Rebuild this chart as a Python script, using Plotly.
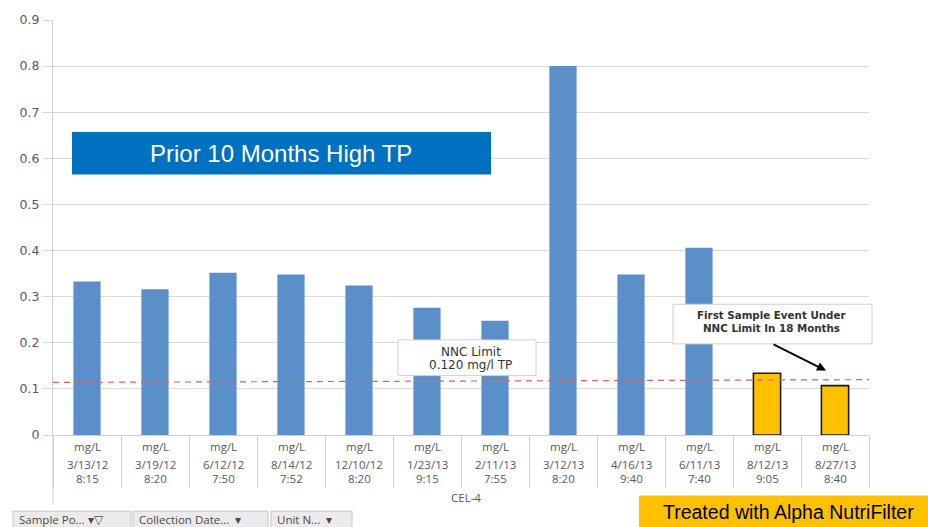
import plotly.graph_objects as go

# ---- data ----
dates = ["3/13/12", "3/19/12", "6/12/12", "8/14/12", "12/10/12", "1/23/13",
         "2/11/13", "3/12/13", "4/16/13", "6/11/13", "8/12/13", "8/27/13"]
times = ["8:15", "8:20", "7:50", "7:52", "8:20", "9:15",
         "7:55", "8:20", "9:40", "7:40", "9:05", "8:40"]
units = ["mg/L"] * 12
tp_values = [0.333, 0.316, 0.352, 0.348, 0.324, 0.276,
             0.248, 0.800, 0.348, 0.406, 0.134, 0.107]
treated = [False] * 10 + [True] * 2
nnc_limit = [0.114, 0.120]          # dashed reference line (left, right)
y_ticks = [0, 0.1, 0.2, 0.3, 0.4, 0.5, 0.6, 0.7, 0.8, 0.9]
y_tick_text = ["0", "0.1", "0.2", "0.3", "0.4", "0.5", "0.6", "0.7", "0.8", "0.9"]
group_label = "CEL-4"

categories = [f"{d} {t}" for d, t in zip(dates, times)]

W, H = 928, 527
ML, MR, MT, MB = 53, 59, 16, 92
PW, PH = W - ML - MR, H - MT - MB


def px(x):
    return (x - ML) / PW


def py(y):
    return (H - MB - y) / PH


BLUE = "#5B8FC9"
YELLOW = "#FFC000"
GREY_TXT = "#595959"

fig = go.Figure()
fig.add_trace(go.Bar(
    x=categories, y=tp_values, width=0.4,
    marker=dict(color=[YELLOW if t else BLUE for t in treated],
                line=dict(color=["#1a1a1a" if t else BLUE for t in treated],
                          width=[1.6 if t else 0 for t in treated])),
    showlegend=False, hoverinfo="x+y",
))

fig.update_layout(
    width=W, height=H, margin=dict(l=ML, r=MR, t=MT, b=MB),
    paper_bgcolor="white", plot_bgcolor="white",
    bargap=0.6,
    xaxis=dict(type="category", range=[-0.5, 11.5], showticklabels=False,
               showgrid=False, tickson="boundaries", ticks="outside",
               ticklen=52, tickcolor="#D0D0D0", tickwidth=1,
               showline=True, linecolor="#D0D0D0", linewidth=1),
    yaxis=dict(range=[0, 0.9], tickvals=y_ticks, ticktext=y_tick_text,
               showgrid=True, gridcolor="#D9D9D9", gridwidth=1,
               zeroline=False, ticks="outside", ticklen=10,
               tickcolor="#D9D9D9", showline=True, linecolor="#D0D0D0",
               tickfont=dict(family="DejaVu Sans", size=12.5, color=GREY_TXT)),
)

shapes = []
annotations = []


def note(x, y, text, font, xanchor="center", xref="paper", **kw):
    d = dict(x=x, xref=xref, y=y, yref="paper", text=text, showarrow=False,
             xanchor=xanchor, yanchor="middle", font=font)
    d.update(kw)
    annotations.append(d)


# left axis extension downward
shapes.append(dict(type="line", xref="paper", yref="paper",
                   x0=0, x1=0, y0=0, y1=py(506), line=dict(color="#D0D0D0", width=1)))

# NNC limit dashed line
shapes.append(dict(type="line", xref="paper", yref="y",
                   x0=0, x1=1, y0=nnc_limit[0], y1=nnc_limit[1],
                   line=dict(color="#D26461", width=1.2, dash="6px,5px")))

# category labels
cat_font = dict(family="Open Sans", size=11.5, color=GREY_TXT)
for cat, u, d, t in zip(categories, units, dates, times):
    note(cat, py(447), u, cat_font, xref="x")
    note(cat, py(465), d, cat_font, xref="x")
    note(cat, py(478.5), t, cat_font, xref="x")

note(px(466), py(498), group_label, cat_font)

# blue title box
shapes.append(dict(type="rect", xref="paper", yref="paper",
                   x0=px(72), x1=px(491), y0=py(129), y1=py(172),
                   fillcolor="#0070C0", line=dict(width=0)))
note(px(281), py(150.5), "Prior 10 Months High TP",
     dict(family="Liberation Sans", size=24, color="white"))

# NNC limit label box
shapes.append(dict(type="rect", xref="paper", yref="paper",
                   x0=px(398), x1=px(536), y0=py(339), y1=py(375),
                   fillcolor="white", line=dict(color="#D0D0D0", width=1)))
note(px(471), py(351.5), "NNC Limit",
     dict(family="DejaVu Sans", size=12, color="#333333"))
note(px(471), py(364.5), "0.120 mg/l TP",
     dict(family="DejaVu Sans", size=12, color="#333333"))

# first sample box
shapes.append(dict(type="rect", xref="paper", yref="paper",
                   x0=px(673), x1=px(872), y0=py(303), y1=py(343),
                   fillcolor="white", line=dict(color="#D0D0D0", width=1)))
note(px(771), py(314), "<b>First Sample Event Under</b>",
     dict(family="DejaVu Sans", size=10.3, color="#333333"))
note(px(771), py(326.5), "<b>NNC Limit In 18 Months</b>",
     dict(family="DejaVu Sans", size=10.3, color="#333333"))
annotations.append(dict(x=px(826), xref="paper", y=py(370), yref="paper",
                        ax=-54, ay=-27, text="", showarrow=True,
                        arrowhead=2, arrowsize=1, arrowwidth=1.8, arrowcolor="black"))

# yellow treated box
shapes.append(dict(type="rect", xref="paper", yref="paper",
                   x0=px(639), x1=px(930), y0=py(496), y1=py(530),
                   fillcolor=YELLOW, line=dict(width=0)))
note(px(788), py(513), "Treated with Alpha NutriFilter",
     dict(family="Liberation Sans", size=19.5, color="black"))

# pivot field buttons
buttons = [("Sample Po... ▾▽", 13, 131), ("Collection Date...  ▾", 133, 268),
           ("Unit N...  ▾", 271, 352)]
for label, x0, x1 in buttons:
    shapes.append(dict(type="rect", xref="paper", yref="paper",
                       x0=px(x0), x1=px(x1), y0=py(512), y1=py(532),
                       fillcolor="#EBEBEB", line=dict(color="#C6C6C6", width=1)))
    note(px(x0 + 4), py(520), label,
         dict(family="Open Sans", size=11.5, color="#4a4a4a"), xanchor="left")

fig.update_layout(shapes=shapes, annotations=annotations)
fig.write_html("out.html", config={"displayModeBar": False},
               post_script="document.body.style.margin='0';document.body.style.overflow='hidden';")
